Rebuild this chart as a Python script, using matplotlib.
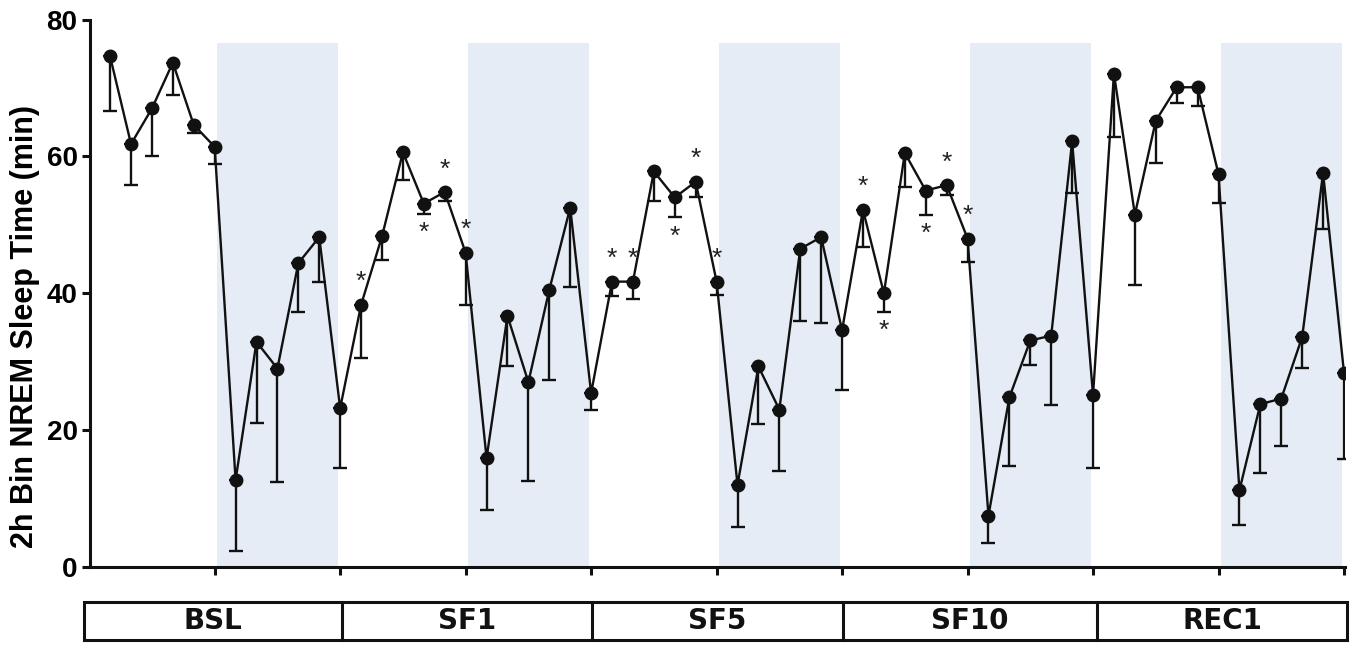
import matplotlib
matplotlib.use("Agg")
import matplotlib.pyplot as plt
import matplotlib.transforms as mtransforms
from matplotlib.patches import Rectangle
import numpy as np

# 2-hour bins, 12 per day, five recording days
days = ["BSL", "SF1", "SF5", "SF10", "REC1"]

nrem_mean = [74.6, 61.8, 67.0, 73.7, 64.6, 61.4, 12.7, 32.9, 29.0, 44.4, 48.2, 23.2,
             38.3, 48.3, 60.6, 53.1, 54.8, 45.9, 15.9, 36.7, 27.0, 40.5, 52.5, 25.4,
             41.7, 41.7, 57.8, 54.0, 56.3, 41.7, 12.0, 29.3, 23.0, 46.5, 48.2, 34.6,
             52.2, 40.0, 60.5, 55.0, 55.8, 48.0, 7.5, 24.8, 33.1, 33.8, 62.2, 25.1,
             72.1, 51.5, 65.2, 70.1, 70.1, 57.4, 11.2, 23.8, 24.6, 33.6, 57.6, 28.4]

nrem_sem = [7.9, 6.0, 6.9, 4.8, 1.2, 2.5, 10.3, 11.8, 16.6, 7.2, 6.6, 8.8,
            7.8, 3.5, 4.0, 1.5, 1.3, 7.6, 7.5, 7.4, 14.4, 13.2, 11.6, 2.4,
            2.1, 2.6, 4.3, 2.9, 2.2, 1.9, 6.1, 8.4, 9.0, 10.5, 12.5, 8.8,
            5.4, 2.7, 5.0, 3.5, 1.5, 3.4, 4.0, 10.0, 3.6, 10.1, 7.6, 10.7,
            9.3, 10.3, 6.1, 2.3, 2.7, 4.2, 5.0, 10.0, 6.9, 4.5, 8.2, 12.6]

# bins marked significant, asterisk drawn above or below the point
sig_above = [12, 16, 17, 24, 25, 28, 29, 36, 40, 41]
sig_below = [15, 27, 37, 39]

# start bin of each dark phase
dark_start = [5, 17, 29, 41, 53]

yticks = [0, 20, 40, 60, 80]

mean = np.array(nrem_mean)
sem = np.array(nrem_sem)
x = np.arange(len(mean))

bold = {"family": "Liberation Sans", "weight": "bold"}

fig = plt.figure(figsize=(13.6, 6.46), dpi=100)
ax = fig.add_axes([0.0662, 0.1223, 0.9228, 0.8475])

ax.set_xlim(-0.96, 59.05)
ax.set_ylim(0, 80)

# dark phases
for s in dark_start:
    ax.axvspan(s + 0.1, s + 5.9, ymin=0, ymax=76.5 / 80, color="#e5ecf5", lw=0, zorder=0)

# lower error bars only
ax.errorbar(x, mean, yerr=[sem, np.zeros_like(sem)], fmt="none", ecolor="#111111",
            elinewidth=1.7, capsize=5.2, capthick=1.7, zorder=2)
ax.plot(x, mean, color="#111111", lw=1.7, marker="o", ms=9, mfc="#111111",
        mec="#111111", zorder=3)

for i in sig_above:
    ax.text(i, mean[i] + 3.3, "*", ha="center", va="center", fontsize=19,
            family="Liberation Sans", color="#222222")
for i in sig_below:
    ax.text(i, mean[i] - sem[i] - 2.8, "*", ha="center", va="center", fontsize=19,
            family="Liberation Sans", color="#222222")

for side in ["top", "right"]:
    ax.spines[side].set_visible(False)
for side in ["left", "bottom"]:
    ax.spines[side].set_linewidth(2.2)
    ax.spines[side].set_color("#111111")

ax.set_xticks(np.arange(5, 60, 6))
ax.set_xticklabels([])
ax.set_yticks(yticks)
ax.set_yticklabels([str(v) for v in yticks], fontdict=bold, fontsize=20)
ax.tick_params(axis="both", length=6, width=2.2, color="#111111", pad=3)

ax.set_ylabel("2h Bin NREM Sleep Time (min)", fontdict=bold, fontsize=22)
ax.yaxis.set_label_coords(-0.040, 0.44)

# day boxes under the axis
trans = mtransforms.blended_transform_factory(ax.transData, ax.transAxes)
edges = [-1.25, 11.1, 23.03, 35.05, 47.2, 59.15]
y0, y1 = -0.133, -0.064
ax.add_patch(Rectangle((edges[0], y0), edges[-1] - edges[0], y1 - y0, transform=trans,
                       fill=False, lw=2.2, ec="#111111", clip_on=False))
for e in edges[1:-1]:
    ax.plot([e, e], [y0, y1], transform=trans, color="#111111", lw=2.2, clip_on=False)
for k, name in enumerate(days):
    ax.text((edges[k] + edges[k + 1]) / 2, (y0 + y1) / 2, name, transform=trans,
            ha="center", va="center", fontsize=20, family="DejaVu Sans",
            weight="bold", color="#111111")

fig.savefig("out.png", dpi=100)
